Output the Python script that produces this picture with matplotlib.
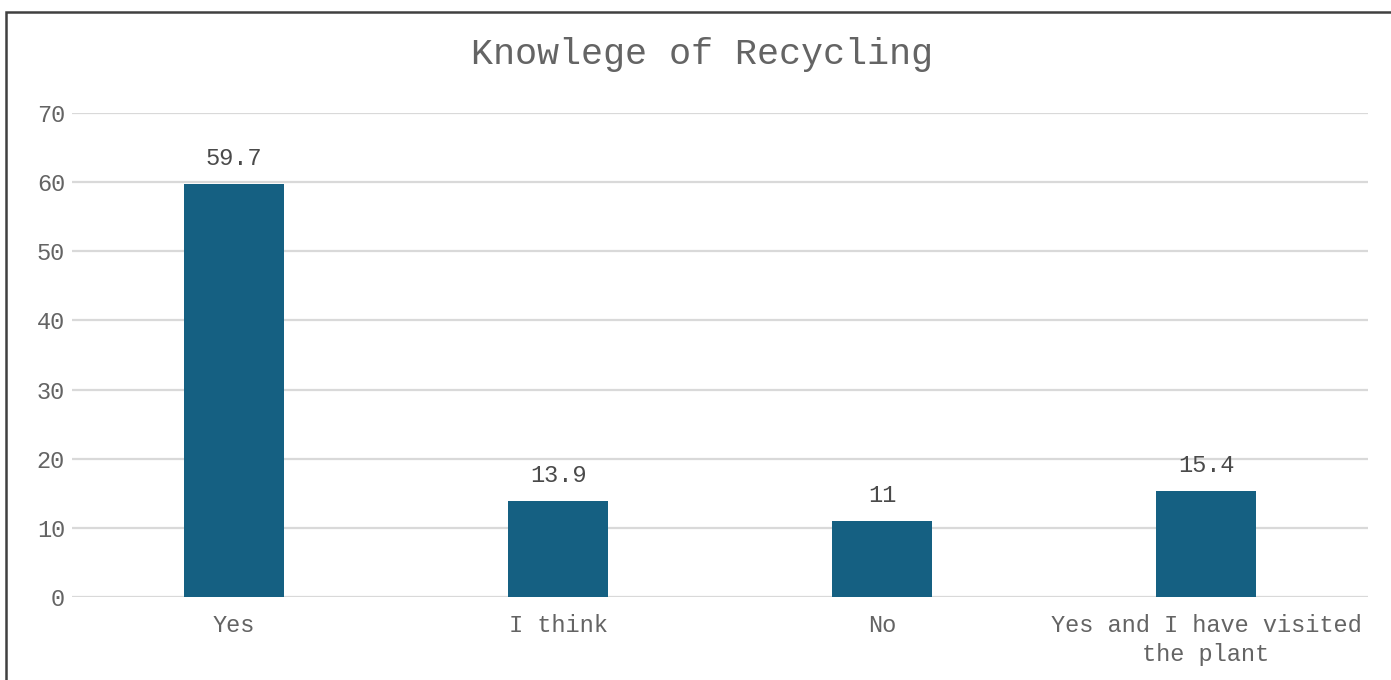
import matplotlib.pyplot as plt
from matplotlib.patches import Rectangle

# Survey answers and their share of respondents (%)
categories = ["Yes", "I think", "No", "Yes and I have visited\nthe plant"]
values = [59.7, 13.9, 11, 15.4]
value_labels = ["59.7", "13.9", "11", "15.4"]
y_ticks = [0, 10, 20, 30, 40, 50, 60, 70]


def main():
    plt.rcParams['font.family'] = ['Liberation Mono', 'DejaVu Sans Mono']

    W, H = 1391, 680
    fig = plt.figure(figsize=(W / 100, H / 100), dpi=100)
    fig.patch.set_facecolor("white")

    # Plot area in pixel terms
    left, right, bottom, top = 72, 1368, 597, 113
    ax = fig.add_axes([left / W, 1 - bottom / H, (right - left) / W, (bottom - top) / H])

    x = list(range(len(categories)))
    ax.bar(x, values, width=0.31, color="#156082", zorder=3)

    for xi, v, lab in zip(x, values, value_labels):
        ax.annotate(lab, (xi, v), xytext=(0, 10), textcoords="offset points",
                    ha="center", va="bottom", fontsize=17, color="#4a4a4a")

    ax.set_xlim(-0.5, len(categories) - 0.5)
    ax.set_ylim(0, 70)
    ax.set_yticks(y_ticks)
    ax.set_xticks(x)
    ax.set_xticklabels(categories, fontsize=17, color="#646464", linespacing=1.35)
    ax.tick_params(axis="y", labelsize=17, labelcolor="#646464", length=0, pad=5)
    ax.tick_params(axis="x", length=0, pad=12)

    ax.grid(axis="y", color="#d9d9d9", linewidth=1.6, zorder=0)
    ax.set_axisbelow(True)
    for s in ax.spines.values():
        s.set_visible(False)

    fig.text(702 / W, 1 - 55 / H, "Knowlege of Recycling", ha="center", va="center",
             fontsize=26.5, color="#646464")

    # Chart-area border (only left and top edges fall inside the image)
    border = Rectangle((6 / W, -0.2), 1.3, 1.2 - 12 / H, transform=fig.transFigure,
                       fill=False, edgecolor="#404040", linewidth=1.8, clip_on=False)
    fig.add_artist(border)

    fig.savefig("out.png", dpi=100)


if __name__ == '__main__':
    main()
